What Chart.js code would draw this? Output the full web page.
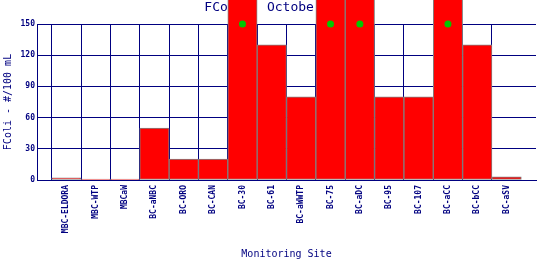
<!DOCTYPE html>
<html>
<head>
<meta charset="utf-8">
<script src="https://cdn.jsdelivr.net/npm/chart.js@4"></script>
<style>
  html, body { margin: 0; padding: 0; background: #ffffff; }
</style>
</head>
<body>
<canvas id="fcoliChart" width="540" height="260"></canvas>
<script>
// monitoring sites along the creek
const sites = ['MBC-ELDORA', 'MBC-WTP', 'MBCaW', 'BC-aNBC', 'BC-ORO', 'BC-CAN', 'BC-30', 'BC-61',
               'BC-aWWTP', 'BC-75', 'BC-aDC', 'BC-95', 'BC-107', 'BC-aCC', 'BC-bCC', 'BC-aSV'];
// FColi #/100 mL (200 = off the top of the scale)
const fcoli = [2, 0, 0, 50, 20, 20, 200, 130, 80, 200, 200, 80, 80, 200, 130, 3];
// green marker where the value runs off the scale
const offScale = [null, null, null, null, null, null, 150, null, null, 150, 150, null, null, 150, null, null];
const yTicks = [0, 30, 60, 90, 120, 150];

const navy = '#000080';
const mono = 'DejaVu Sans Mono';

// one empty slot each side so the sites sit one full step in from the axes
const labels = [''].concat(sites, ['']);
const pad = arr => [null].concat(arr, [null]);

const ctx = document.getElementById('fcoliChart').getContext('2d');

const chart = new Chart(ctx, {
    data: {
        labels: labels,
        datasets: [{
            type: 'line',
            data: pad(offScale),
            showLine: false,
            pointRadius: 3.5,
            pointHoverRadius: 3.5,
            pointBackgroundColor: '#00c800',
            pointBorderColor: '#00c800',
            pointBorderWidth: 0,
            clip: false,
            order: 0
        }, {
            type: 'bar',
            data: pad(fcoli),
            backgroundColor: '#ff0000',
            borderColor: '#808080',
            borderWidth: 1,
            borderSkipped: false,
            minBarLength: 1,
            categoryPercentage: 1,
            barPercentage: 1,
            clip: false,
            order: 1
        }]
    },
    options: {
        responsive: false,
        animation: false,
        layout: { padding: { left: 0, right: 4, top: 0, bottom: 0 } },
        plugins: {
            legend: { display: false },
            tooltip: { enabled: false },
            title: {
                display: true,
                text: 'FColi - October, 2003',
                fullSize: false,
                color: navy,
                font: { family: mono, size: 13, weight: 'normal' },
                padding: { top: 0, bottom: 8.4 }
            }
        },
        scales: {
            x: {
                type: 'category',
                offset: false,
                grid: {
                    color: c => c.index === labels.length - 1 ? 'rgba(0,0,0,0)' : navy,
                    lineWidth: 1,
                    drawTicks: false
                },
                border: { color: navy, width: 1 },
                ticks: {
                    color: navy,
                    font: { family: mono, size: 8, weight: 'bold' },
                    autoSkip: false,
                    minRotation: 90,
                    maxRotation: 90,
                    padding: 5
                },
                title: {
                    display: true,
                    text: 'Monitoring Site',
                    color: navy,
                    font: { family: mono, size: 10 },
                    padding: { top: 0, bottom: 0 }
                },
                afterFit: function(scale) {
                    scale.height = 80;
                    scale.paddingLeft = 0;
                    scale.paddingRight = 0;
                }
            },
            y: {
                min: 0,
                max: 150,
                afterBuildTicks: function(scale) {
                    scale.ticks = yTicks.map(v => ({ value: v }));
                },
                grid: { color: navy, lineWidth: 1, drawTicks: false },
                border: { color: navy, width: 1 },
                ticks: {
                    color: navy,
                    font: { family: mono, size: 8, weight: 'bold' },
                    padding: 2
                },
                title: {
                    display: true,
                    text: 'FColi - #/100 mL',
                    color: navy,
                    font: { family: mono, size: 10 },
                    padding: { top: 2, bottom: 0 }
                },
                afterFit: function(scale) {
                    scale.width = 37;
                    scale.paddingTop = 0;
                    scale.paddingBottom = 0;
                }
            }
        }
    }
});
</script>
</body>
</html>
